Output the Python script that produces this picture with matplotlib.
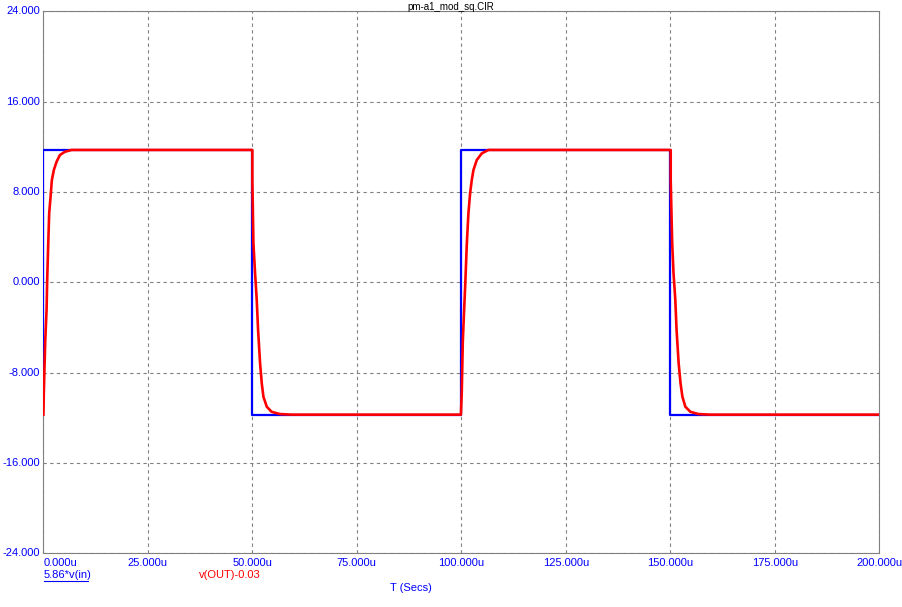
import numpy as np
import matplotlib
matplotlib.use("Agg")
import matplotlib.pyplot as plt

# 5.86*v(in): ideal square wave (time in us)
vin_t = [0, 0, 50, 50, 100, 100, 150, 150, 200]
vin_v = [-11.72, 11.72, 11.72, -11.72, -11.72, 11.72, 11.72, -11.72, -11.72]

# v(OUT)-0.03 (time in us)
out_t = [0, 0.1, 0.43, 0.76, 0.91, 1.15, 1.39, 1.72, 2.03, 2.5, 3.16, 3.95, 5.15, 6.75,
         50.0, 50.0, 50.25, 50.65, 51.05, 51.37, 51.85, 52.25, 52.65, 53.45, 54.6, 56.6, 59.4,
         99.9, 100.1, 100.35, 100.67, 100.98, 101.3, 101.7, 102.1, 102.5, 102.9, 103.7, 104.9, 106.5,
         150.1, 150.1, 150.45, 150.77, 151.2, 151.5, 152.0, 152.45, 152.9, 153.6, 154.8, 156.7, 159.5,
         200]
out_v = [-11.72, -9.8, -5.27, -2.46, 0.2, 3.3, 6.13, 7.58, 9.06, 9.94, 10.68, 11.27, 11.56, 11.72,
         11.72, 9.0, 3.47, 0.8, -1.57, -4.23, -7.18, -8.95, -10.14, -11.02, -11.47, -11.67, -11.72,
         -11.72, -9.8, -5.27, -2.46, 0.2, 3.3, 6.13, 7.88, 9.06, 9.94, 10.83, 11.42, 11.72,
         11.72, 9.0, 3.47, 0.8, -1.57, -4.23, -7.18, -8.95, -10.14, -11.02, -11.47, -11.67, -11.72,
         -11.72]

x_ticks = [0, 25, 50, 75, 100, 125, 150, 175, 200]
y_ticks = [-24, -16, -8, 0, 8, 16, 24]

plt.rcParams['font.family'] = ['Liberation Sans', 'DejaVu Sans']
blue = '#0000ff'
red = '#ff0000'
fs = 8

fig = plt.figure(figsize=(9.02, 6.07), dpi=100)
ax = fig.add_axes([0.0481, 0.0885, 0.9267, 0.8929])

ax.plot(vin_t, vin_v, color=blue, lw=1.6, zorder=3)
ax.plot(out_t, out_v, color=red, lw=1.9, zorder=4)

ax.set_xlim(0, 200)
ax.set_ylim(-24, 24)
ax.set_xticks(x_ticks)
ax.set_yticks(y_ticks)
ax.set_xticklabels([])
ax.set_yticklabels([])
ax.tick_params(length=0)
ax.grid(True, color='#808080', linestyle=(0, (3, 3)), lw=0.8)
for name, s in ax.spines.items():
    s.set_color('#808080')
    s.set_linewidth(0.8)
    if name in ('top', 'bottom'):
        s.set_linestyle((0, (1, 1)))

# tick labels drawn as text to mimic the original alignment
for i, t in enumerate(x_ticks):
    ha = 'left' if i == 0 else 'center'
    ax.text(t, -24.4, f"{t:.3f}u", color=blue, fontsize=fs, ha=ha, va='top')
for v in y_ticks:
    ax.text(-0.8, v, f"{v:.3f}", color=blue, fontsize=fs, ha='right', va='center')

fig.text(0.5, 0.996, "pm-a1_mod_sq.CIR", fontsize=7, ha='center', va='top', color='black')
fig.text(43.5 / 902, 1 - 575 / 607, "5.86*v(in)", color=blue, fontsize=fs, va='center', ha='left')
fig.add_artist(plt.Line2D([43.5 / 902, 88 / 902], [1 - 580.5 / 607, 1 - 580.5 / 607],
                          color=blue, lw=0.8))
fig.text(199 / 902, 1 - 575 / 607, "v(OUT)-0.03", color=red, fontsize=fs, va='center', ha='left')
fig.text(411 / 902, 1 - 588 / 607, "T (Secs)", color=blue, fontsize=fs, va='center', ha='center')

fig.savefig("out.png", dpi=100)
